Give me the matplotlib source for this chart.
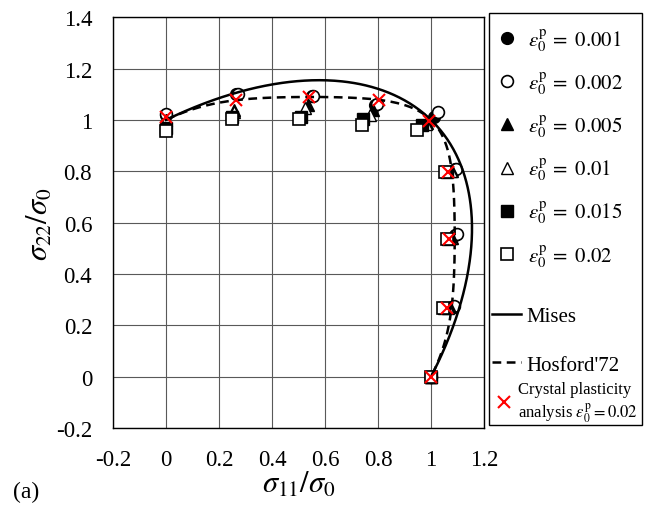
import numpy as np
import matplotlib
matplotlib.use("Agg")
import matplotlib.pyplot as plt
from matplotlib.patches import Rectangle

plt.rcParams['font.family'] = ['Liberation Serif', 'DejaVu Serif']
plt.rcParams['mathtext.fontset'] = 'stix'

# ---- data ----
s11_e001 = [0.0, 0.265, 0.55, 0.79, 1.01, 1.09, 1.09, 1.08, 1.0]
s22_e001 = [1.02, 1.10, 1.095, 1.06, 1.01, 0.81, 0.55, 0.27, 0.0]
s11_e002 = [0.0, 0.27, 0.555, 0.795, 1.025, 1.095, 1.097, 1.085, 1.0]
s22_e002 = [1.025, 1.10, 1.095, 1.063, 1.03, 0.81, 0.555, 0.275, 0.0]
s11_e005 = [0.0, 0.258, 0.537, 0.78, 0.985, 1.08, 1.08, 1.07, 1.0]
s22_e005 = [1.0, 1.04, 1.06, 1.04, 0.99, 0.80, 0.54, 0.27, 0.0]
s11_e01 = [0.0, 0.255, 0.525, 0.77, 0.98, 1.075, 1.075, 1.065, 1.0]
s22_e01 = [1.0, 1.03, 1.045, 1.02, 0.985, 0.80, 0.54, 0.267, 0.0]
s11_e015 = [0.0, 0.25, 0.51, 0.745, 0.965, 1.06, 1.065, 1.05, 1.0]
s22_e015 = [0.97, 1.01, 1.01, 1.005, 0.98, 0.797, 0.538, 0.266, 0.0]
s11_e02 = [0.0, 0.248, 0.503, 0.738, 0.948, 1.053, 1.059, 1.046, 1.0]
s22_e02 = [0.955, 1.003, 1.005, 0.982, 0.96, 0.797, 0.538, 0.266, 0.0]
s11_cp = [0.0, 0.264, 0.541, 0.805, 0.993, 1.065, 1.069, 1.062, 1.0]
s22_cp = [1.01, 1.077, 1.089, 1.077, 0.995, 0.797, 0.536, 0.266, 0.0]

hosford_exponent = 8  # Hosford'72 yield function exponent (FCC)

x_ticks = [-0.2, 0, 0.2, 0.4, 0.6, 0.8, 1, 1.2]
y_ticks = [-0.2, 0, 0.2, 0.4, 0.6, 0.8, 1, 1.2, 1.4]
x_ticklabels = ['-0.2', '0', '0.2', '0.4', '0.6', '0.8', '1', '1.2']
y_ticklabels = ['-0.2', '0', '0.2', '0.4', '0.6', '0.8', '1', '1.2', '1.4']

eps_labels = [r'$\varepsilon_0^{\rm p}\, =\ 0.001$', r'$\varepsilon_0^{\rm p}\, =\ 0.002$',
              r'$\varepsilon_0^{\rm p}\, =\ 0.005$', r'$\varepsilon_0^{\rm p}\, =\ 0.01$',
              r'$\varepsilon_0^{\rm p}\, =\ 0.015$', r'$\varepsilon_0^{\rm p}\, =\ 0.02$']
curve_labels = ['Mises', "Hosford'72"]
cp_label = 'Crystal plasticity\nanalysis ' + r'$\varepsilon_0^{\rm p} = 0.02$'

# ---- yield loci ----
theta = np.linspace(np.pi / 2, 0, 400)
c, s = np.cos(theta), np.sin(theta)
r_mises = 1.0 / np.sqrt(c**2 - c * s + s**2)
a = hosford_exponent
r_hos = (2.0 / (np.abs(c)**a + np.abs(s)**a + np.abs(c - s)**a))**(1.0 / a)

fig = plt.figure(figsize=(6.57, 5.06), dpi=100)
ax = fig.add_axes([0.172, 0.152, 0.5647, 0.812])

ms = 8.5
h1, = ax.plot(s11_e001, s22_e001, 'o', ms=ms, mfc='black', mec='black', ls='none', zorder=3)
h2, = ax.plot(s11_e002, s22_e002, 'o', ms=ms, mfc='white', mec='black', mew=1.2, ls='none', zorder=3)
h3, = ax.plot(s11_e005, s22_e005, '^', ms=ms, mfc='black', mec='black', ls='none', zorder=3)
h4, = ax.plot(s11_e01, s22_e01, '^', ms=ms, mfc='white', mec='black', mew=1.0, ls='none', zorder=3)
h5, = ax.plot(s11_e015, s22_e015, 's', ms=ms, mfc='black', mec='black', ls='none', zorder=3)
h6, = ax.plot(s11_e02, s22_e02, 's', ms=ms, mfc='white', mec='black', mew=1.2, ls='none', zorder=3)
h7, = ax.plot(r_mises * c, r_mises * s, '-', color='black', lw=1.8, zorder=4)
h8, = ax.plot(r_hos * c, r_hos * s, '--', color='black', lw=1.8, dashes=(3.5, 2.2), zorder=4)
h9, = ax.plot(s11_cp, s22_cp, 'x', ms=9, mec='red', mew=1.5, ls='none', zorder=5)

ax.set_xlim(-0.2, 1.2)
ax.set_ylim(-0.2, 1.4)
ax.set_xticks(x_ticks)
ax.set_xticklabels(x_ticklabels)
ax.set_yticks(y_ticks)
ax.set_yticklabels(y_ticklabels)
ax.tick_params(length=0, labelsize=16.5, pad=15)
ax.grid(True, color='0.35', lw=0.8)
ax.set_axisbelow(True)
for sp in ax.spines.values():
    sp.set_color('black')
    sp.set_linewidth(1.0)

ax.set_xlabel(r'$\sigma_{11}/\sigma_0$', fontsize=22, labelpad=0)
ax.set_ylabel(r'$\sigma_{22}/\sigma_0$', fontsize=22, labelpad=1)
fig.text(0.02, 0.016, '(a)', fontsize=17, va='baseline')

# legend frame
fig.patches.append(Rectangle((0.744, 0.158), 0.233, 0.814, transform=fig.transFigure,
                             fill=True, facecolor='white', edgecolor='black', lw=1.0, zorder=0))

common = dict(loc='center left', bbox_transform=fig.transFigure, borderaxespad=0,
              borderpad=0, frameon=False)
legA = fig.legend([h1, h2, h3, h4, h5, h6], eps_labels, bbox_to_anchor=(0.749, 0.707),
                  fontsize=15, labelspacing=0.78, handlelength=1.4, handletextpad=0.3, **common)
legB = fig.legend([h7, h8], curve_labels, bbox_to_anchor=(0.749, 0.325),
                  fontsize=15, labelspacing=1.4, handlelength=1.4, handletextpad=0.26, **common)
legC = fig.legend([h9], [cp_label], bbox_to_anchor=(0.749, 0.203),
                  fontsize=12, handlelength=1.44, handletextpad=0.1, **common)

fig.savefig('out.png', dpi=100)
